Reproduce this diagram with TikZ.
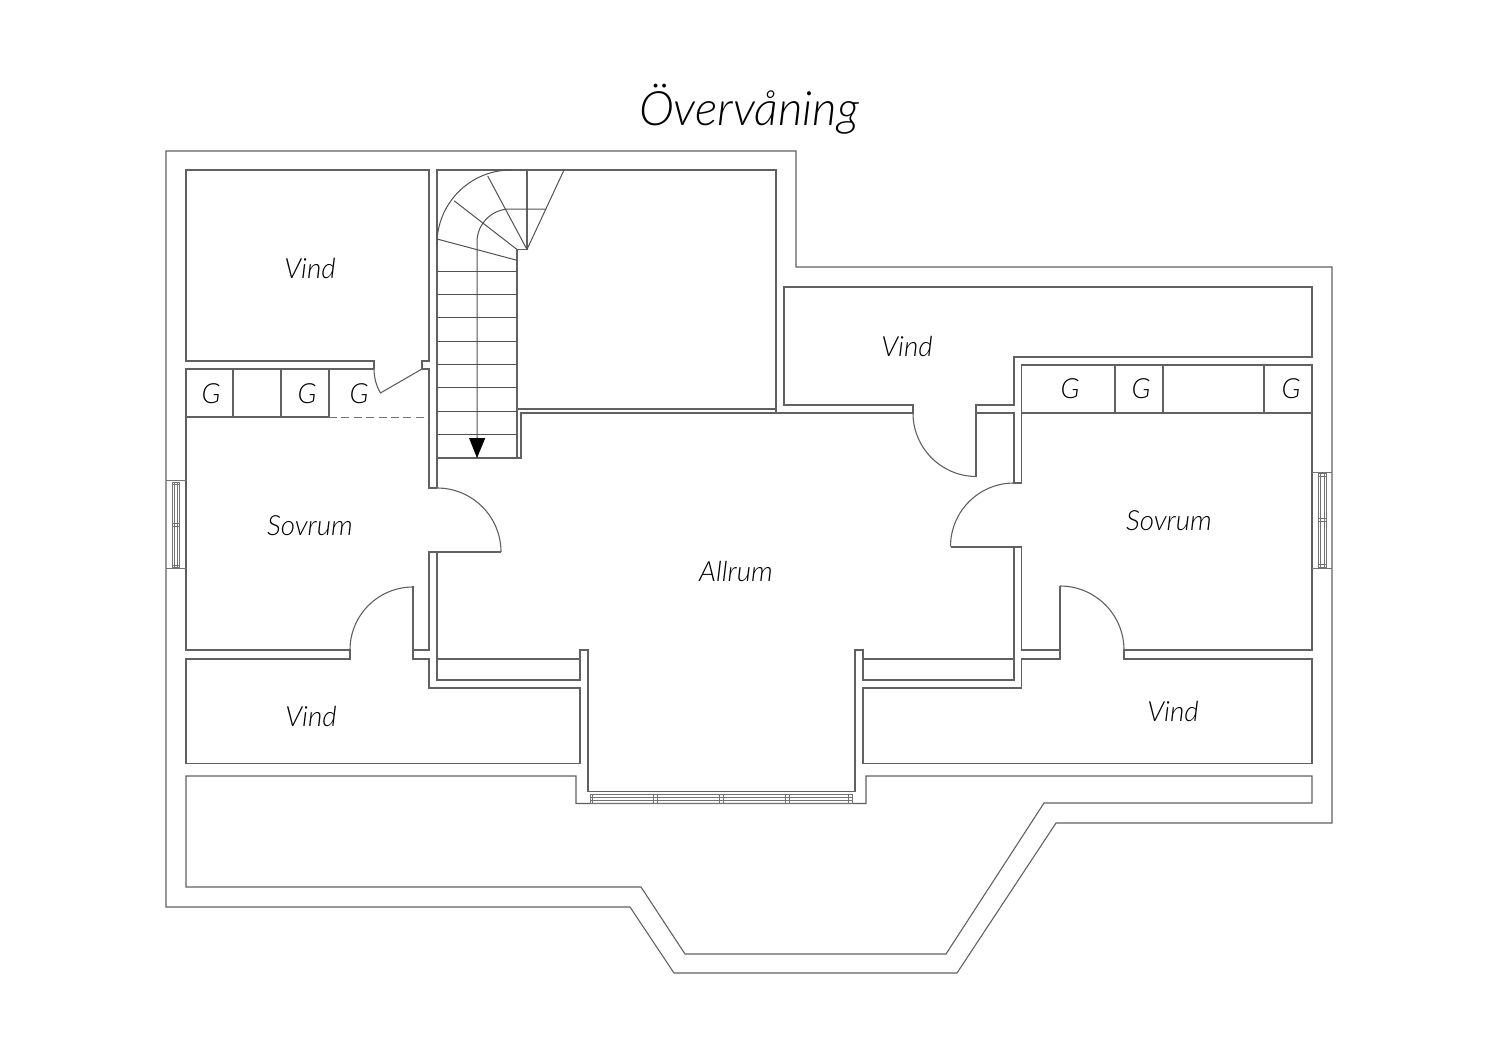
\documentclass[tikz,border=0pt]{standalone}
\usepackage{fontspec}
\setmainfont{Lato}[ItalicFont={Lato Light Italic}]
\usetikzlibrary{positioning}

\begin{document}
\begin{tikzpicture}[x=0.5pt,y=-0.5pt,
                       wall/.style={draw=black!62,line width=0.55pt,line join=miter},
                       fine/.style={draw=black!68,line width=0.5pt},
                       window/.style={draw=black!55,line width=0.4pt},
                       room label/.style={font=\itshape\fontsize{13.9}{15}\selectfont,text=black,inner sep=0pt},
                       title label/.style={font=\itshape\fontsize{23.7}{28}\selectfont,text=black,inner sep=0pt}
                      ]
   \useasboundingbox (0,0) rectangle (1500,1060);

   \node[title label] (title) at (749,109) {Övervåning};
   \node[room label] (vindA) at (310,268) {Vind};
   \node[room label] (vindB) at (907,346) {Vind};
   \node[room label] (vindC) at (311,716) {Vind};
   \node[room label] (vindD) at (1173,711) {Vind};
   \node[room label] (sovrumA) at (310,526) {Sovrum};
   \node[room label] (sovrumB) at (1169,521) {Sovrum};
   \node[room label] (allrum) at (736,571) {Allrum};
   \node[room label] (gA) at (211,394) {G};
   \node[room label] (gB) at (307,394) {G};
   \node[room label] (gC) at (359,394) {G};
   \node[room label] (gD) at (1070,389) {G};
   \node[room label] (gE) at (1141,389) {G};
   \node[room label] (gF) at (1291,389) {G};

   % outer walls
   \draw[wall] (166,151) -- (796,151) -- (796,267) -- (1332,267) -- (1332,823) -- (1056,823)
      -- (957,973) -- (674,973) -- (630,907) -- (166,907) -- cycle;
   \draw[wall] (186,776) -- (576,776) -- (576,803.5) -- (866,803.5) -- (866,776) -- (1312,776)
      -- (1312,803) -- (1044,803) -- (946,954) -- (685,954) -- (641,887) -- (186,887) -- cycle;

   % left side
   \draw[wall] (374,369) -- (374,361) -- (186,361) -- (186,170) -- (429,170) -- (429,361)
      -- (422,361) -- (422,369) -- (429,369) -- (429,488) -- (437,488);
   \draw[wall] (374,369) -- (186,369) -- (186,650) -- (350,650) -- (350,659) -- (186,659)
      -- (186,763.5) -- (580,763.5) -- (580,688) -- (429,688) -- (429,659) -- (413,659)
      -- (413,586);
   \draw[wall] (413,650) -- (429,650) -- (429,552) -- (501,552);
   \draw[wall] (437,552) -- (437,680) -- (580,680) -- (580,650) -- (588,650) -- (588,791.5);
   \draw[wall] (437,659) -- (580,659);
   \draw[wall] (186,417) -- (329,417);
   \draw[wall] (233,369) -- (233,417);
   \draw[wall] (281,369) -- (281,417);
   \draw[wall] (329,369) -- (329,417);
   \draw[window,dash pattern=on 4pt off 2.2pt] (329,417) -- (429,417);
   \draw[wall] (374,369) arc[start angle=180,end angle=150,radius=48] -- (422,369);
   \draw[wall] (437,488) arc[start angle=-90,end angle=0,radius=64];
   \draw[wall] (350,650) arc[start angle=180,end angle=270,radius=63];

   % stairs
   \draw[wall] (437,488) -- (437,170) -- (776,170) -- (776,413) -- (521,413) -- (521,458) -- (437,458);
   \draw[wall] (517,458) -- (517,249.5) -- (527,249.5) -- (527,170);
   \draw[wall] (517,409) -- (776,409);
   \foreach \stepy in {271,294.3,317.7,341,364.3,387.7,411,434.3}
      \draw[fine] (437,\stepy) -- (517,\stepy);
   \draw[fine] (527,249.5) -- (564,170);
   \draw[fine] (527,249.5) -- (487.7,176);
   \draw[fine] (517,249.5) -- (454,200.7);
   \draw[fine] (517,260.3) -- (437,239);
   \draw[fine] (437,244) arc[start angle=180,end angle=270,radius=74];
   \draw[fine] (545,209) -- (510,209) arc[start angle=270,end angle=180,radius=33] -- (477,458);
   \fill[black] (469,438) -- (485.3,438) -- (477,458) -- cycle;

   % centre top and right side
   \draw[wall] (776,413) -- (913,413) -- (913,405) -- (784,405) -- (784,287) -- (1312,287)
      -- (1312,357) -- (1014,357) -- (1014,405) -- (976,405) -- (976,477);
   \draw[wall] (976,413) -- (1014,413) -- (1014,483) -- (1021.5,483) -- (1021.5,365)
      -- (1312,365) -- (1312,650) -- (1124,650) -- (1124,659) -- (1312,659) -- (1312,763.5)
      -- (863,763.5) -- (863,688) -- (1021.5,688) -- (1021.5,659) -- (1060,659) -- (1060,586);
   \draw[wall] (1021.5,413) -- (1312,413);
   \draw[wall] (1115,365) -- (1115,413);
   \draw[wall] (1163,365) -- (1163,413);
   \draw[wall] (1264,365) -- (1264,413);
   \draw[wall] (950.5,547) -- (1021.5,547) -- (1021.5,650) -- (1060,650);
   \draw[wall] (1014,547) -- (1014,680) -- (863,680) -- (863,650) -- (855,650) -- (855,791.5);
   \draw[wall] (863,659) -- (1014,659);
   \draw[wall] (913,413) arc[start angle=180,end angle=90,radius=63.5];
   \draw[wall] (1014,483) arc[start angle=-90,end angle=-180,radius=63.5];
   \draw[wall] (1060,586) arc[start angle=-90,end angle=0,radius=64];

   % windows
   \draw[window] (166,480.5) -- (186,480.5);
   \draw[window] (166,568) -- (186,568);
   \draw[window] (172,482) rectangle (179.5,567);
   \draw[window] (174,482) -- (174,567);
   \draw[window] (177.5,482) -- (177.5,567);
   \foreach \bary in {484.5,523,526,565}
      \draw[window] (172,\bary) -- (179.5,\bary);
   \draw[window] (1312,472.5) -- (1332,472.5);
   \draw[window] (1312,568) -- (1332,568);
   \draw[window] (1318.3,473.5) rectangle (1326.7,567);
   \draw[window] (1320.3,473.5) -- (1320.3,567);
   \draw[window] (1324.8,473.5) -- (1324.8,567);
   \foreach \bary in {476,518.5,521.5,564.5}
      \draw[window] (1318.3,\bary) -- (1326.7,\bary);
   \draw[wall] (588,791.5) -- (855,791.5);
   \draw[window] (590,794.5) rectangle (852.5,803.5);
   \draw[window] (590,797.5) -- (852.5,797.5);
   \draw[window] (590,800) -- (852.5,800);
   \foreach \barx in {590,592.7,653.3,657.3,719.3,723.3,785,789.3,848.7,852.3}
      \draw[window] (\barx,794.5) -- (\barx,803.5);
\end{tikzpicture}
\end{document}
